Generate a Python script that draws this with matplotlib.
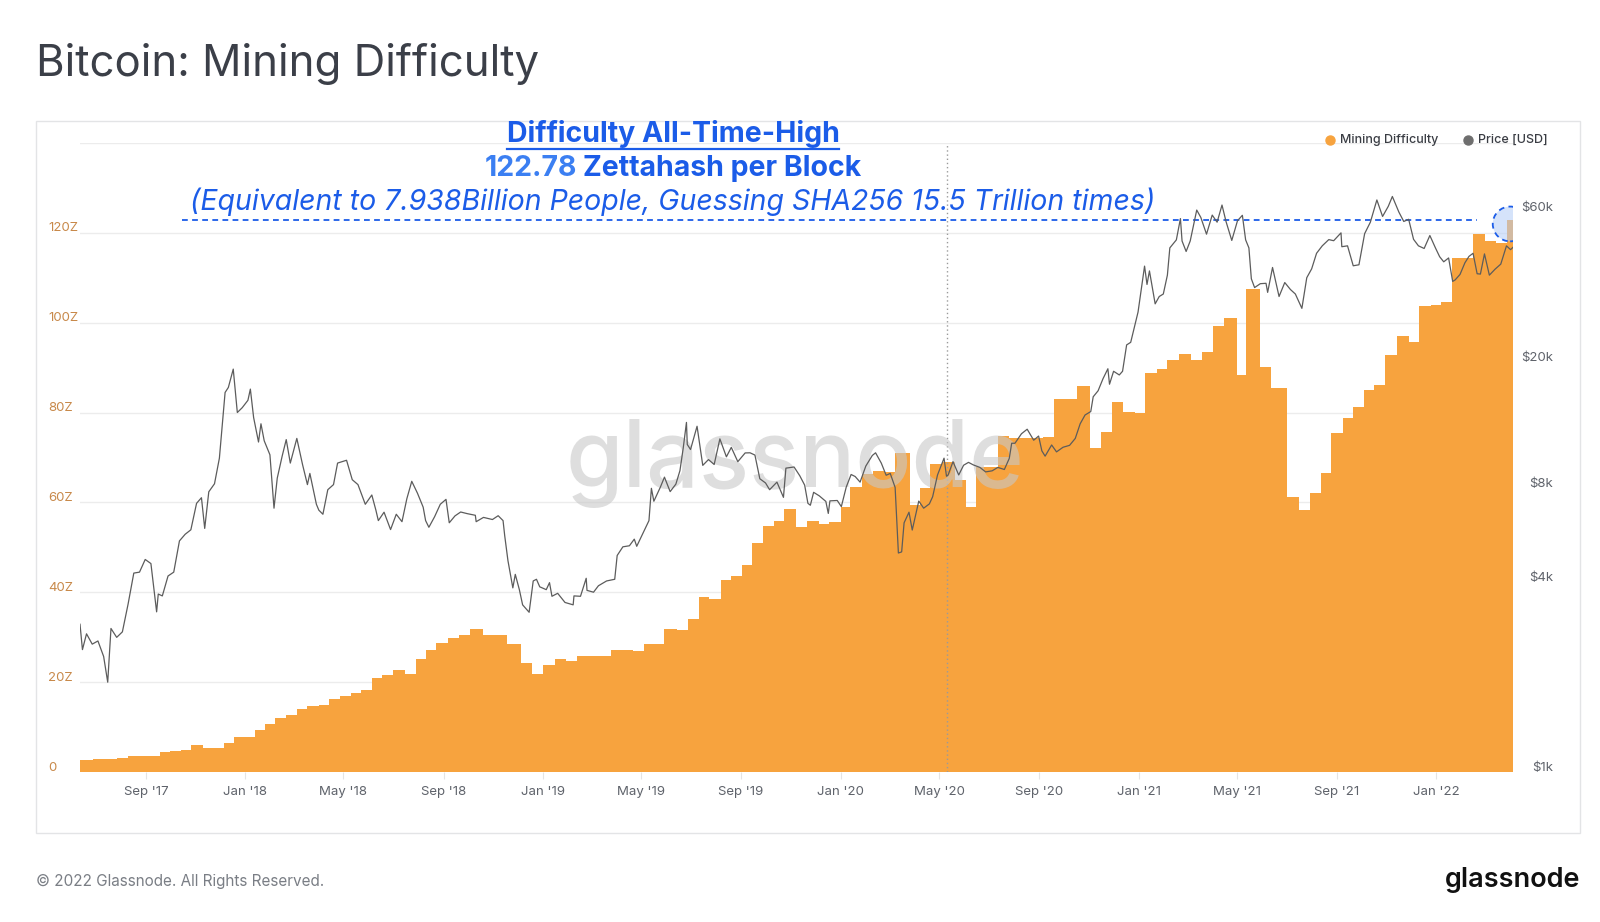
import matplotlib
matplotlib.use('Agg')
import matplotlib.pyplot as plt
import matplotlib.dates as mdates
import matplotlib.transforms as mtransforms
from matplotlib.patches import Circle, Rectangle
from matplotlib.lines import Line2D
from matplotlib.ticker import NullLocator
import pandas as pd

plt.rcParams['font.family'] = ['Inter', 'DejaVu Sans']

# difficulty per adjustment epoch (zettahash per block)
diff_dates = [
    '2017-06-12', '2017-06-28', '2017-07-14', '2017-07-28', '2017-08-10', '2017-08-23', '2017-09-05', '2017-09-18',
    '2017-10-01', '2017-10-14', '2017-10-26', '2017-11-10', '2017-11-23', '2017-12-06', '2017-12-18', '2017-12-31',
    '2018-01-13', '2018-01-25', '2018-02-06', '2018-02-20', '2018-03-05', '2018-03-17', '2018-04-01', '2018-04-13',
    '2018-04-27', '2018-05-10', '2018-05-23', '2018-06-05', '2018-06-18', '2018-07-01', '2018-07-16', '2018-07-29',
    '2018-08-10', '2018-08-23', '2018-09-06', '2018-09-20', '2018-10-04', '2018-10-19', '2018-11-02', '2018-11-18',
    '2018-12-05', '2018-12-19',
    '2019-01-01', '2019-01-16', '2019-01-29', '2019-02-12', '2019-02-26', '2019-03-11', '2019-03-25', '2019-04-07',
    '2019-04-21', '2019-05-05', '2019-05-17', '2019-05-30', '2019-06-14', '2019-06-28', '2019-07-11', '2019-07-24',
    '2019-08-07', '2019-08-20', '2019-09-02', '2019-09-14', '2019-09-28', '2019-10-12', '2019-10-24', '2019-11-07',
    '2019-11-21', '2019-12-05', '2019-12-18',
    '2020-01-01', '2020-01-13', '2020-01-27', '2020-02-10', '2020-02-23', '2020-03-08', '2020-03-26', '2020-04-08',
    '2020-04-20', '2020-05-04', '2020-05-20', '2020-06-03', '2020-06-15', '2020-06-28', '2020-07-12', '2020-07-26',
    '2020-08-09', '2020-08-23', '2020-09-05', '2020-09-19', '2020-10-03', '2020-10-17', '2020-11-02', '2020-11-15',
    '2020-11-29', '2020-12-13', '2020-12-27',
    '2021-01-09', '2021-01-23', '2021-02-05', '2021-02-19', '2021-03-06', '2021-03-19', '2021-04-02', '2021-04-15',
    '2021-05-01', '2021-05-12', '2021-05-30', '2021-06-12', '2021-07-02', '2021-07-17', '2021-07-30', '2021-08-13',
    '2021-08-25', '2021-09-08', '2021-09-21', '2021-10-04', '2021-10-17', '2021-10-30', '2021-11-14', '2021-11-28',
    '2021-12-11', '2021-12-25',
    '2022-01-07', '2022-01-20', '2022-02-02', '2022-02-15', '2022-03-02', '2022-03-15', '2022-03-29']
diff_z = [
    2.7, 2.8, 3.0, 3.2, 3.5, 3.5, 3.5, 4.5, 4.6, 4.8, 6.0, 5.4, 5.4, 6.5, 7.8, 7.9,
    9.3, 10.7, 12.0, 12.7, 14.0, 14.6, 14.9, 16.3, 16.9, 17.5, 18.3, 20.9, 21.6, 22.8, 21.9, 25.2,
    27.2, 28.7, 29.9, 30.6, 31.9, 30.6, 30.6, 28.6, 24.2, 21.8,
    23.9, 25.1, 24.8, 25.8, 25.8, 25.8, 27.2, 27.2, 27.0, 28.6, 28.6, 31.8, 31.5, 34.0, 38.9, 38.6,
    42.7, 43.7, 46.1, 50.9, 54.7, 55.8, 58.6, 54.5, 55.8, 55.3, 55.6,
    59.0, 63.5, 66.4, 67.0, 66.7, 71.1, 59.5, 63.2, 68.5, 69.1, 64.9, 59.0, 67.9, 67.9, 74.8, 74.3,
    74.3, 74.3, 74.5, 83.1, 83.1, 86.0, 72.2, 75.6, 82.3, 80.2, 80.0,
    88.7, 89.6, 91.8, 93.1, 91.8, 93.5, 99.2, 101.1, 88.3, 107.4, 90.2, 85.4, 61.2, 58.4, 62.0, 66.5,
    75.5, 78.8, 81.3, 85.0, 86.1, 92.9, 97.1, 95.8, 103.7, 103.9,
    104.5, 114.3, 114.3, 119.8, 118.1, 117.7, 122.78]
diff_end = '2022-04-05'

# BTC price (USD)
price_dates = [
    '2017-06-12', '2017-06-15', '2017-06-20', '2017-06-27', '2017-07-04', '2017-07-11', '2017-07-16', '2017-07-20',
    '2017-07-27', '2017-08-03', '2017-08-10', '2017-08-17', '2017-08-24', '2017-08-31', '2017-09-07', '2017-09-14',
    '2017-09-16', '2017-09-21', '2017-09-28', '2017-10-05', '2017-10-12', '2017-10-19', '2017-10-26', '2017-11-02',
    '2017-11-08', '2017-11-12', '2017-11-17', '2017-11-24', '2017-11-30', '2017-12-07', '2017-12-11', '2017-12-17',
    '2017-12-22', '2017-12-28',
    '2018-01-04', '2018-01-07', '2018-01-11', '2018-01-17', '2018-01-20', '2018-01-24', '2018-01-31', '2018-02-05',
    '2018-02-09', '2018-02-15', '2018-02-20', '2018-02-25', '2018-03-05', '2018-03-12', '2018-03-18', '2018-03-21',
    '2018-03-29', '2018-04-01', '2018-04-06', '2018-04-12', '2018-04-19', '2018-04-24', '2018-05-05', '2018-05-12',
    '2018-05-19', '2018-05-28', '2018-06-05', '2018-06-10', '2018-06-13', '2018-06-20', '2018-06-28', '2018-07-05',
    '2018-07-12', '2018-07-18', '2018-07-24', '2018-07-31', '2018-08-07', '2018-08-10', '2018-08-14', '2018-08-21',
    '2018-08-28', '2018-09-04', '2018-09-08', '2018-09-15', '2018-09-22', '2018-09-30', '2018-10-10', '2018-10-11',
    '2018-10-20', '2018-10-31', '2018-11-07', '2018-11-13', '2018-11-15', '2018-11-19', '2018-11-25', '2018-11-28',
    '2018-12-03', '2018-12-07', '2018-12-15', '2018-12-20', '2018-12-24', '2018-12-28',
    '2019-01-05', '2019-01-09', '2019-01-12', '2019-01-19', '2019-01-28', '2019-02-07', '2019-02-08', '2019-02-16',
    '2019-02-23', '2019-02-24', '2019-03-04', '2019-03-10', '2019-03-20', '2019-03-30', '2019-04-02', '2019-04-09',
    '2019-04-17', '2019-04-23', '2019-04-26', '2019-05-03', '2019-05-11', '2019-05-14', '2019-05-17', '2019-05-25',
    '2019-05-30', '2019-06-06', '2019-06-13', '2019-06-18', '2019-06-22', '2019-06-26', '2019-06-27', '2019-07-01',
    '2019-07-09', '2019-07-16', '2019-07-23', '2019-07-30', '2019-08-06', '2019-08-14', '2019-08-20', '2019-08-28',
    '2019-09-06', '2019-09-12', '2019-09-18', '2019-09-24', '2019-10-01', '2019-10-06', '2019-10-15', '2019-10-23',
    '2019-10-26', '2019-11-05', '2019-11-12', '2019-11-18', '2019-11-22', '2019-11-25', '2019-11-29', '2019-12-06',
    '2019-12-14', '2019-12-17', '2019-12-19', '2019-12-28',
    '2020-01-02', '2020-01-08', '2020-01-14', '2020-01-19', '2020-01-25', '2020-02-01', '2020-02-09', '2020-02-13',
    '2020-02-20', '2020-02-26', '2020-03-02', '2020-03-08', '2020-03-12', '2020-03-16', '2020-03-19', '2020-03-25',
    '2020-03-29', '2020-04-06', '2020-04-12', '2020-04-19', '2020-04-23', '2020-04-29', '2020-05-07', '2020-05-10',
    '2020-05-12', '2020-05-18', '2020-05-25', '2020-05-31', '2020-06-06', '2020-06-12', '2020-06-20', '2020-06-27',
    '2020-07-05', '2020-07-12', '2020-07-20', '2020-07-26', '2020-07-29', '2020-08-02', '2020-08-10', '2020-08-17',
    '2020-08-25', '2020-08-31', '2020-09-04', '2020-09-08', '2020-09-16', '2020-09-22', '2020-09-30', '2020-10-08',
    '2020-10-15', '2020-10-21', '2020-10-27', '2020-11-03', '2020-11-06', '2020-11-12', '2020-11-18', '2020-11-24',
    '2020-11-26', '2020-12-01', '2020-12-08', '2020-12-12', '2020-12-17', '2020-12-22', '2020-12-27', '2020-12-31',
    '2021-01-03', '2021-01-08', '2021-01-11', '2021-01-14', '2021-01-21', '2021-01-26', '2021-01-31', '2021-02-05',
    '2021-02-08', '2021-02-16', '2021-02-21', '2021-02-23', '2021-02-28', '2021-03-05', '2021-03-13', '2021-03-18',
    '2021-03-25', '2021-04-01', '2021-04-07', '2021-04-13', '2021-04-18', '2021-04-25', '2021-05-02', '2021-05-08',
    '2021-05-12', '2021-05-16', '2021-05-19', '2021-05-23', '2021-05-30', '2021-06-06', '2021-06-08', '2021-06-14',
    '2021-06-22', '2021-06-29', '2021-07-06', '2021-07-12', '2021-07-20', '2021-07-26', '2021-08-01', '2021-08-07',
    '2021-08-14', '2021-08-22', '2021-08-28', '2021-09-06', '2021-09-07', '2021-09-14', '2021-09-21', '2021-09-28',
    '2021-10-05', '2021-10-12', '2021-10-20', '2021-10-27', '2021-11-03', '2021-11-08', '2021-11-16', '2021-11-22',
    '2021-11-28', '2021-12-04', '2021-12-10', '2021-12-17', '2021-12-24', '2021-12-31',
    '2022-01-05', '2022-01-10', '2022-01-16', '2022-01-21', '2022-01-24', '2022-01-30', '2022-02-05', '2022-02-10',
    '2022-02-15', '2022-02-20', '2022-02-24', '2022-03-01', '2022-03-07', '2022-03-14', '2022-03-21', '2022-03-28',
    '2022-04-02', '2022-04-05']
price_usd = [
    2950, 2450, 2750, 2550, 2610, 2330, 1930, 2860, 2680, 2790, 3420, 4290, 4320, 4740, 4600, 3230,
    3680, 3630, 4200, 4320, 5430, 5700, 5890, 7150, 7450, 5950, 7780, 8250, 9950, 16100, 16700, 19100,
    13900, 14400,
    15200, 16500, 13400, 11200, 12800, 11300, 10200, 6900, 8600, 10100, 11400, 9600, 11500, 9500, 8200, 8900,
    7100, 6800, 6600, 7900, 8200, 9600, 9800, 8500, 8200, 7100, 7600, 6800, 6300, 6700, 5900, 6600,
    6250, 7400, 8400, 7700, 6950, 6300, 6000, 6480, 7100, 7360, 6200, 6520, 6710, 6630, 6550, 6250,
    6450, 6350, 6530, 6300, 5650, 4700, 3850, 4250, 3800, 3400, 3220, 4050, 4100, 3880,
    3800, 4000, 3620, 3700, 3460, 3400, 3630, 3620, 4130, 3780, 3730, 3910, 4050, 4100, 4880, 5200,
    5240, 5500, 5220, 5700, 6300, 7980, 7260, 8050, 8660, 7790, 8230, 9080, 10700, 12930, 11000, 10600,
    12570, 9440, 9850, 9500, 11460, 10050, 10770, 9700, 10340, 10350, 10180, 8560, 8300, 7900, 8350, 7470,
    9250, 9330, 8750, 8170, 7150, 7050, 7750, 7550, 7250, 6640, 7280, 7300,
    6980, 8050, 8830, 8700, 8350, 9390, 10150, 10350, 9600, 8780, 8900, 8030, 4970, 5010, 6200, 6700,
    5880, 7270, 6900, 7120, 7500, 8800, 9950, 8720, 8800, 9700, 8800, 9450, 9650, 9470, 9300, 9000,
    9070, 9300, 9160, 9930, 11100, 11100, 11900, 12300, 11350, 11700, 10500, 10100, 10960, 10420, 10780, 10930,
    11500, 12800, 13650, 14000, 15600, 16300, 17800, 19150, 17100, 18800, 18300, 18800, 22800, 23240, 26300, 29000,
    32900, 40600, 35500, 39200, 30800, 32500, 33100, 38000, 46400, 49200, 57500, 48800, 45200, 48800, 61200, 58000,
    51300, 59000, 56000, 63500, 56200, 49000, 56600, 58900, 49200, 46400, 37000, 34700, 35700, 35800, 33500, 40200,
    32500, 36000, 34200, 33100, 29800, 37300, 39800, 44600, 47100, 49300, 48900, 51800, 46800, 47100, 40700, 41000,
    51500, 56000, 65900, 58400, 62900, 67600, 60300, 56300, 57200, 49400, 47100, 46200, 50800, 46300,
    43500, 41900, 43100, 36300, 36700, 38200, 41600, 43600, 44600, 38400, 38300, 44400, 38000, 39700, 41200, 47100,
    45800, 46600]

ath_value = 122.78
halving_date = '2020-05-11'
left_ticks = [0, 20, 40, 60, 80, 100, 120]
left_labels = ['0', '20Z', '40Z', '60Z', '80Z', '100Z', '120Z']
right_ticks = [1000, 4000, 8000, 20000, 60000]
right_labels = ['$1k', '$4k', '$8k', '$20k', '$60k']
month_ticks = pd.date_range('2017-09-01', '2022-01-01', freq='4MS')

ORANGE = '#f7a33e'
BLUE = '#1b5ce8'
W, H = 1600, 922


def fx(px):
    return px / W


def fy(py):
    return 1 - py / H


fig = plt.figure(figsize=(16, 9.22), dpi=100)
fig.patch.set_facecolor('white')

# chart frame
fig.add_artist(Rectangle((fx(36), fy(833)), fx(1580) - fx(36), fy(121) - fy(833),
                         transform=fig.transFigure, fill=False, edgecolor='#e3e4e6', lw=1))

ax = fig.add_axes([fx(80), fy(772), fx(1513) - fx(80), fy(143) - fy(772)])
ax.patch.set_alpha(0)

starts = pd.to_datetime(diff_dates)
ends = list(starts[1:]) + [pd.Timestamp(diff_end)]
x0 = mdates.date2num(starts)
widths = mdates.date2num(ends) - x0
ax.bar(x0, diff_z, width=widths, align='edge', color=ORANGE, linewidth=0, zorder=2)

ax.set_xlim(x0[0], mdates.date2num(pd.Timestamp(diff_end)))
ax.set_ylim(0, 140)
ax.set_yticks(range(0, 141, 20))
ax.set_yticklabels([])
ax.tick_params(axis='y', length=0)
ax.grid(axis='y', color='#ececec', lw=1)
ax.set_axisbelow(True)
for s in ax.spines.values():
    s.set_visible(False)

ax.set_xticks(mdates.date2num(month_ticks))
ax.set_xticklabels([d.strftime("%b '%y") for d in month_ticks])
ax.tick_params(axis='x', length=5, color='#e4e4e4', pad=5, labelsize=9.5, labelcolor='#5f636b')

for v, lab in zip(left_ticks, left_labels):
    ax.annotate(lab, xy=((48 - 80) / 1433, v), xycoords=('axes fraction', 'data'),
                xytext=(0, 3.2), textcoords='offset points', ha='left', va='center',
                fontsize=9.5, color='#c8894a')

# halving marker
ax.axvline(mdates.date2num(pd.Timestamp(halving_date)), color='#9a9a9a', ls=(0, (1, 2)), lw=1, zorder=3)

# watermark
ax.text(0.499, 0.49, 'glassnode', transform=ax.transAxes, ha='center', va='center',
        fontsize=67, fontweight='medium', color='#c8c8c8', alpha=0.6, zorder=4)

# ATH line and circle
ax.axhline(ath_value, xmin=(182 - 80) / 1433, xmax=0.975, color=BLUE, lw=1.3, dashes=(3.2, 2.4), zorder=5)
cx = x0[-1] + widths[-1] / 2
trans = fig.dpi_scale_trans + mtransforms.ScaledTranslation(cx, ath_value - 0.8, ax.transData)
ax.add_patch(Circle((0, 0), radius=0.174, transform=trans, facecolor='#b4cdf6', alpha=0.55,
                    edgecolor='none', zorder=6))
ax.add_patch(Circle((0, 0), radius=0.174, transform=trans, fill=False, edgecolor=BLUE,
                    lw=1.3, ls=(0, (3.2, 2.4)), zorder=7))

# price on log axis
ax2 = ax.twinx()
ax2.set_yscale('log')
ax2.set_ylim(1000, 100000)
ax2.plot(pd.to_datetime(price_dates), price_usd, color='#5c5c5c', lw=0.9, zorder=3)
ax2.set_xlim(ax.get_xlim())
ax2.set_yticks([])
ax2.yaxis.set_minor_locator(NullLocator())
for s in ax2.spines.values():
    s.set_visible(False)
for v, lab in zip(right_ticks, right_labels):
    ax2.annotate(lab, xy=((1553 - 80) / 1433, v), xycoords=('axes fraction', 'data'),
                 xytext=(0, 3.2), textcoords='offset points', ha='right', va='center',
                 fontsize=9.5, color='#5f636b')

# title and footer
fig.text(fx(36), fy(64), 'Bitcoin: Mining Difficulty', ha='left', va='center',
         fontsize=31.5, color='#3b3f48')
fig.text(fx(36), fy(881), '\u00a9 2022 Glassnode. All Rights Reserved.', ha='left', va='center',
         fontsize=11, color='#7a7e85')
fig.text(fx(1580), fy(880), 'glassnode', ha='right', va='center', fontsize=19.5,
         fontweight='semibold', color='#111111')

# legend
for dx, col, lab in [(1330, ORANGE, 'Mining Difficulty'), (1468, '#6e6e6e', 'Price [USD]')]:
    fig.add_artist(Line2D([fx(dx)], [fy(140)], marker='o', markersize=6.5, color=col,
                          transform=fig.transFigure))
    fig.text(fx(dx + 10), fy(140), lab, ha='left', va='center', fontsize=9,
             fontweight='medium', color='#3a3d44')

# annotation block
renderer = fig.canvas.get_renderer()
FS = 20.5
t1 = fig.text(fx(673), fy(134), 'Difficulty All-Time-High', ha='center', va='center',
              fontsize=FS, fontweight='bold', color=BLUE)
bb = t1.get_window_extent(renderer)
fig.add_artist(Line2D([bb.x0 / W, bb.x1 / W], [(bb.y0 - 1) / H] * 2, color=BLUE, lw=1.6,
                      transform=fig.transFigure))

probe = fig.text(fx(673), fy(168), '122.78 Zettahash per Block', ha='center', va='center',
                 fontsize=FS, fontweight='bold')
bb2 = probe.get_window_extent(renderer)
probe.remove()
fig.text(bb2.x0 / W, fy(168), '122.78', ha='left', va='center', fontsize=FS,
         fontweight='bold', color='#3b7ff2')
fig.text(bb2.x1 / W, fy(168), 'Zettahash per Block', ha='right', va='center', fontsize=FS,
         fontweight='bold', color=BLUE)

fig.text(fx(673), fy(202), '(Equivalent to 7.938Billion People, Guessing SHA256 15.5 Trillion times)',
         ha='center', va='center', fontsize=FS, fontstyle='italic', color=BLUE)

fig.savefig('out.png', dpi=100)
